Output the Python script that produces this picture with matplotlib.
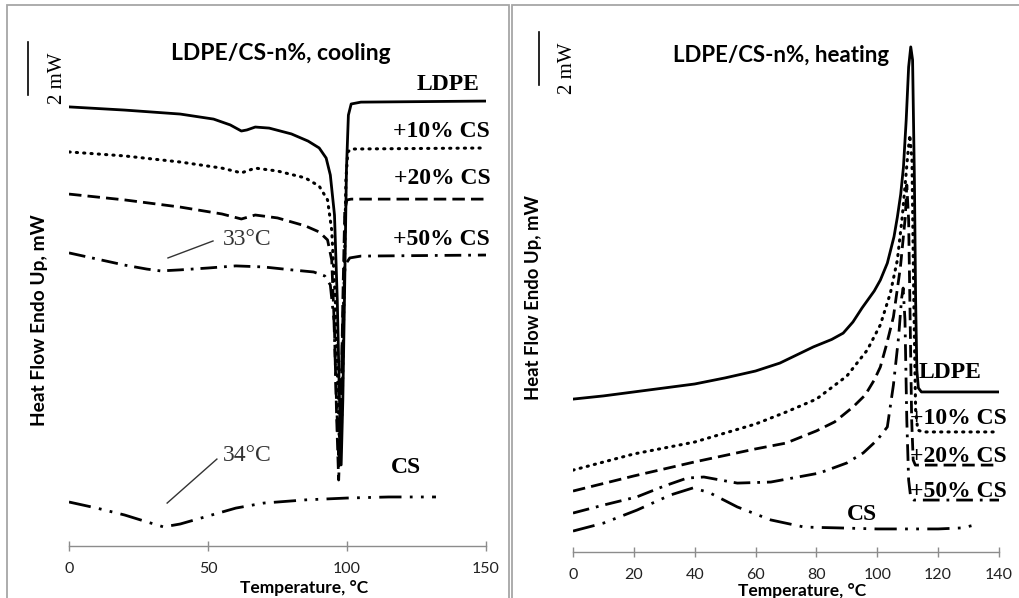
import matplotlib
matplotlib.use("Agg")
import matplotlib.pyplot as plt
from matplotlib.patches import Rectangle

W, H = 1019, 598

# ---- cooling data (temperature, heat flow in mW with offsets) ----
t_ldpe_c = [0, 20, 40, 52, 58, 62, 64, 67, 72, 80, 86, 90, 92.5, 94, 95.5, 96.5, 97.3, 97.9,
            98.5, 99.2, 99.8, 100.5, 101.5, 105, 150]
y_ldpe_c = [16.57, 16.45, 16.30, 16.11, 15.89, 15.66, 15.70, 15.81, 15.77, 15.55, 15.28, 15.02,
            14.64, 14.00, 12.49, 9.28, 5.51, 3.06, 5.51, 10.04, 14.19, 16.26, 16.68, 16.75, 16.79]

t_10_c = [0, 20, 40, 55, 62, 67, 75, 85, 90, 93, 94.5, 95.8, 96.8, 97.5, 98.3, 99, 99.6, 100.3,
          101.5, 150]
y_10_c = [14.87, 14.72, 14.49, 14.26, 14.08, 14.26, 14.15, 13.89, 13.58, 13.06, 11.92, 9.28,
          5.51, 3.06, 5.51, 10.04, 13.81, 14.87, 14.98, 15.02]

t_20_c = [0, 20, 40, 55, 62, 67, 75, 85, 90, 93, 94.5, 95.5, 96.3, 97, 97.8, 98.5, 99.2, 100,
          101.5, 150]
y_20_c = [13.28, 13.06, 12.79, 12.53, 12.34, 12.49, 12.38, 12.08, 11.85, 11.55, 10.79, 8.15,
          4.75, 2.49, 4.75, 9.28, 12.68, 13.06, 13.09, 13.09]

t_50_c = [0, 10, 20, 28, 33, 40, 50, 60, 70, 80, 88, 92, 94, 95.3, 96.2, 97, 97.8, 98.5, 99.3,
          101, 105, 150]
y_50_c = [11.06, 10.83, 10.60, 10.45, 10.38, 10.42, 10.49, 10.57, 10.53, 10.42, 10.34, 10.19,
          9.85, 8.53, 5.51, 3.43, 5.51, 8.53, 10.60, 10.87, 10.94, 10.98]

t_cs_c = [0, 10, 20, 28, 34, 40, 50, 60, 70, 85, 100, 115, 132]
y_cs_c = [1.66, 1.43, 1.17, 0.91, 0.72, 0.83, 1.13, 1.43, 1.62, 1.74, 1.81, 1.85, 1.85]

# ---- heating data ----
t_ldpe_h = [0, 10, 20, 30, 40, 50, 60, 68, 79, 85, 88.8, 92, 95, 99, 101, 103.3, 105.5, 106.6,
            107.7, 108.6, 109.5, 110.3, 111, 111.6, 112.2, 112.6, 113.0, 113.5, 114.5, 140]
y_ldpe_h = [5.77, 5.89, 6.04, 6.19, 6.34, 6.57, 6.83, 7.13, 7.74, 8.02, 8.26, 8.68, 9.21, 9.85,
            10.26, 10.90, 11.90, 12.64, 13.50, 14.53, 16.30, 18.30, 19.06, 18.57, 14.04, 9.51,
            6.87, 6.19, 6.04, 6.04]

t_10_h = [0, 20, 40, 60, 70, 80, 90, 96.7, 101, 104.3, 106.6, 108.2, 109.2, 110, 110.7, 111.4,
          112, 112.6, 113.3, 115, 140]
y_10_h = [3.09, 3.70, 4.15, 4.83, 5.28, 5.77, 6.64, 7.62, 8.57, 9.77, 11.02, 12.64, 13.92, 14.98,
          15.74, 14.79, 9.51, 5.36, 4.60, 4.53, 4.53]

t_20_h = [0, 20, 40, 60, 70, 80, 86, 92, 96, 99, 101, 103, 105.3, 107.6, 109.2, 109.7, 110.3,
          110.8, 111.3, 111.8, 112.5, 140]
y_20_h = [2.30, 2.87, 3.40, 3.89, 4.11, 4.57, 4.91, 5.47, 5.92, 6.49, 6.98, 7.81, 8.87, 10.75,
          12.64, 13.85, 12.53, 8.75, 4.98, 3.47, 3.28, 3.28]

t_50_h = [0, 10, 21, 30, 37.5, 43, 54, 65, 81, 90, 95.4, 100, 103.3, 105.3, 107, 108, 108.5,
          109.1, 109.7, 110.3, 111, 112, 140]
y_50_h = [1.47, 1.77, 2.08, 2.49, 2.79, 2.83, 2.60, 2.64, 2.98, 3.36, 3.74, 4.23, 4.72, 6.30,
          8.11, 9.58, 9.96, 8.75, 4.98, 2.72, 2.04, 1.96, 1.96]

t_cs_h = [0, 10, 21, 32, 39.5, 45, 54, 65, 76, 87, 100, 120, 128, 132]
y_cs_h = [0.79, 1.09, 1.58, 2.15, 2.42, 2.23, 1.70, 1.21, 0.94, 0.91, 0.87, 0.87, 0.91, 1.02]

cool_ticks = [0, 50, 100, 150]
heat_ticks = [0, 20, 40, 60, 80, 100, 120, 140]

styles = [
    dict(ls="-", lw=2.0),
    dict(ls=(0, (0.4, 2.0)), lw=2.2, dash_capstyle="round"),
    dict(ls=(0, (4.5, 2.2)), lw=2.0),
    dict(ls=(0, (6, 2.5, 1, 2.5)), lw=2.0),
    dict(ls=(0, (8, 3, 1, 3, 1, 3)), lw=2.0),
]


def fx(x):
    return x / W


def fy(y):
    return 1 - y / H


fig = plt.figure(figsize=(W / 100, H / 100), dpi=100)

# panel frames
fig.patches.append(Rectangle((fx(7), fy(620)), fx(502), fy(5) - fy(620), transform=fig.transFigure,
                             fill=False, ec="#a6a6a6", lw=1.3))
fig.patches.append(Rectangle((fx(512), fy(620)), fx(530), fy(5) - fy(620), transform=fig.transFigure,
                             fill=False, ec="#a6a6a6", lw=1.3))

ax1 = fig.add_axes([fx(69), fy(546), fx(486 - 69), fy(16) - fy(546)])
ax2 = fig.add_axes([fx(573), fy(552), fx(999 - 573), fy(22) - fy(552)])

for ax, xmax, ticks in [(ax1, 150, cool_ticks), (ax2, 140, heat_ticks)]:
    ax.set_xlim(0, xmax)
    ax.set_ylim(0, 20)
    ax.patch.set_visible(False)
    for s in ["left", "top", "right"]:
        ax.spines[s].set_visible(False)
    ax.spines["bottom"].set_color("#8c8c8c")
    ax.spines["bottom"].set_linewidth(1.0)
    ax.set_yticks([])
    ax.set_xticks(ticks)
    ax.tick_params(axis="x", direction="inout", length=7, width=1.0, color="#8c8c8c", pad=8,
                   labelsize=11.5, labelcolor="#222222")
    for lab in ax.get_xticklabels():
        lab.set_fontfamily("Lato")

cool = [(t_ldpe_c, y_ldpe_c), (t_10_c, y_10_c), (t_20_c, y_20_c), (t_50_c, y_50_c), (t_cs_c, y_cs_c)]
heat = [(t_ldpe_h, y_ldpe_h), (t_10_h, y_10_h), (t_20_h, y_20_h), (t_50_h, y_50_h), (t_cs_h, y_cs_h)]

for (t, y), st in zip(cool, styles):
    ax1.plot(t, y, color="black", **st)
for (t, y), st in zip(heat, styles):
    ax2.plot(t, y, color="black", **st)

lab_font = dict(family="Liberation Serif", fontweight="bold", fontsize=17, color="black")

# cooling labels
ax1.text(147.5, 17.43, "LDPE", ha="right", va="center", **lab_font)
ax1.text(151.5, 15.66, "+10% CS", ha="right", va="center", **lab_font)
ax1.text(151.5, 13.85, "+20% CS", ha="right", va="center", **lab_font)
ax1.text(151.5, 11.55, "+50% CS", ha="right", va="center", **lab_font)
ax1.text(121.2, 2.98, "CS", ha="center", va="center", **lab_font)

# heating labels
ax2.text(113.5, 6.79, "LDPE", ha="left", va="center", **lab_font)
ax2.text(110.9, 5.02, "+10% CS", ha="left", va="center", **lab_font)
ax2.text(110.9, 3.62, "+20% CS", ha="left", va="center", **lab_font)
ax2.text(110.9, 2.30, "+50% CS", ha="left", va="center", **lab_font)
ax2.text(95.1, 1.40, "CS", ha="center", va="center", **lab_font)

# peak annotations
ann_font = dict(family="Liberation Serif", fontsize=17, color="#333333")
ax1.plot([35.6, 51.8], [10.87, 11.51], color="#333333", lw=1.0)
ax1.text(64, 11.58, "33°C", ha="center", va="center", **ann_font)
ax1.plot([35.3, 53.2], [1.62, 3.28], color="#333333", lw=1.0)
ax1.text(64, 3.43, "34°C", ha="center", va="center", **ann_font)

# scale bars
fig.add_artist(plt.Line2D([fx(28), fx(28)], [fy(42), fy(95)], color="black", lw=1.2))
fig.text(fx(57), fy(78), "2 mW", rotation=90, ha="center", va="center",
         family="Liberation Serif", fontsize=15)
fig.add_artist(plt.Line2D([fx(539), fx(539)], [fy(32), fy(85)], color="black", lw=1.2))
fig.text(fx(567), fy(68), "2 mW", rotation=90, ha="center", va="center",
         family="Liberation Serif", fontsize=15)

# titles and axis labels
sans_bold = dict(family="Lato", fontweight="bold", color="black")
fig.text(fx(281), fy(53), "LDPE/CS-n%, cooling", ha="center", va="center", fontsize=16.5, **sans_bold)
fig.text(fx(781), fy(56), "LDPE/CS-n%, heating", ha="center", va="center", fontsize=16, **sans_bold)
fig.text(fx(304), fy(588), "Temperature, °C", ha="center", va="center", fontsize=12.5, **sans_bold)
fig.text(fx(802), fy(591), "Temperature, °C", ha="center", va="center", fontsize=12.5, **sans_bold)
fig.text(fx(40), fy(320), "Heat Flow Endo Up, mW", rotation=90, ha="center", va="center",
         fontsize=13.8, **sans_bold)
fig.text(fx(533), fy(298), "Heat Flow Endo Up, mW", rotation=90, ha="center", va="center",
         fontsize=13.3, **sans_bold)

fig.savefig("out.png", dpi=100)
